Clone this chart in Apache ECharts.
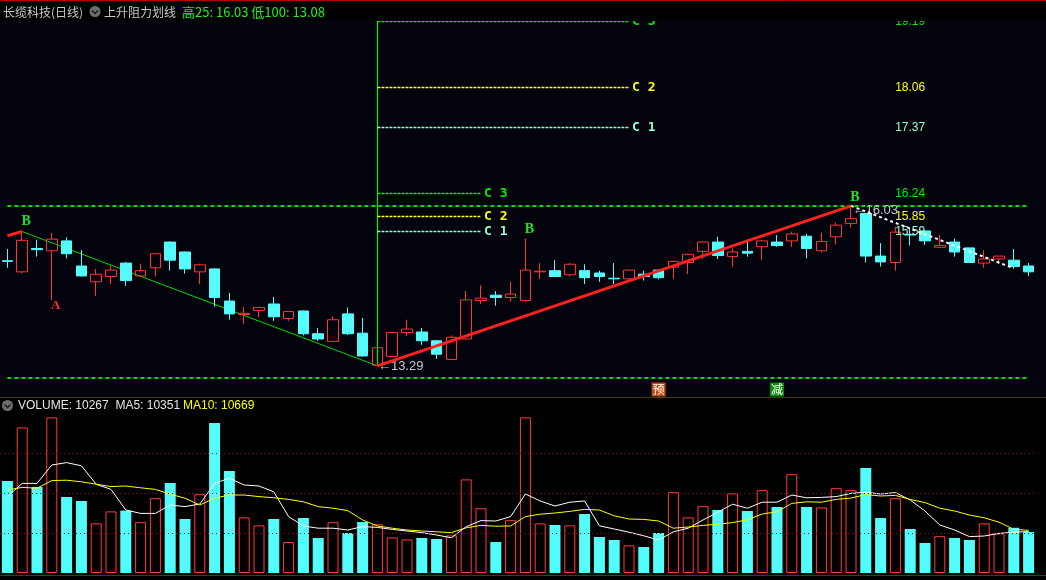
<!DOCTYPE html>
<html><head><meta charset="utf-8">
<script src="https://cdn.jsdelivr.net/npm/echarts@6/dist/echarts.min.js"></script>
<style>html,body{margin:0;padding:0;background:#000;}#c{width:1046px;height:580px;}</style>
</head><body><div id="c"></div>
<script>
// ---------- data ----------
const categories = Array.from({length: 70}, (_, i) => 'D' + (i + 1));
const open = [15.09,14.90,15.30,15.26,15.43,15.00,14.73,14.82,15.05,14.83,
  14.97,15.41,15.24,14.90,14.95,14.40,14.17,14.24,14.35,14.10,
  14.23,13.84,13.71,14.18,13.85,13.30,13.45,13.86,13.87,13.72,
  13.40,13.75,14.41,14.50,14.46,14.41,14.90,14.92,14.85,14.92,
  14.88,14.79,14.78,14.86,14.93,14.98,15.06,15.25,15.41,15.16,
  15.25,15.33,15.41,15.43,15.51,15.26,15.50,15.73,15.90,15.17,
  15.06,15.54,15.60,15.32,15.41,15.31,15.05,15.12,15.10,15.00];
const close = [15.08,15.44,15.28,15.46,15.21,14.83,14.86,14.93,14.75,14.92,
  15.21,15.10,14.95,15.02,14.46,14.18,14.19,14.29,14.13,14.22,
  13.84,13.75,14.08,13.84,13.46,13.60,13.86,13.92,13.72,13.49,
  13.78,14.42,14.45,14.46,14.52,14.93,14.91,14.82,15.03,14.80,
  14.82,14.78,14.93,14.82,14.80,15.08,15.20,15.41,15.18,15.24,
  15.22,15.43,15.35,15.55,15.30,15.42,15.70,15.81,15.17,15.07,
  15.58,15.53,15.43,15.35,15.24,15.06,15.12,15.17,14.99,14.90];
const low = [14.97,14.88,15.16,14.42,15.13,14.82,14.49,14.69,14.66,14.82,
  14.82,14.92,14.87,14.69,14.30,14.08,14.01,14.12,14.06,14.06,
  13.81,13.72,13.70,13.82,13.45,13.29,13.44,13.80,13.65,13.41,
  13.39,13.74,14.35,14.32,14.39,14.39,14.78,14.81,14.82,14.69,
  14.73,14.69,14.73,14.75,14.77,14.78,14.86,15.12,15.12,14.99,
  15.16,15.10,15.33,15.33,15.13,15.23,15.37,15.66,15.06,14.99,
  14.92,15.35,15.36,15.32,15.16,15.05,14.97,15.03,14.96,14.83];
const high = [15.29,15.59,15.45,15.57,15.49,15.27,14.95,15.01,15.07,15.04,
  15.22,15.42,15.25,15.04,14.96,14.54,14.30,14.30,14.47,14.23,
  14.24,13.94,14.14,14.29,14.11,13.60,13.87,14.08,13.94,13.73,
  13.81,14.57,14.67,14.57,14.73,15.47,15.05,15.10,15.05,15.03,
  14.92,15.05,14.94,14.92,14.94,15.09,15.21,15.42,15.50,15.30,
  15.41,15.44,15.53,15.59,15.55,15.57,15.74,16.03,15.90,15.39,
  15.67,15.65,15.60,15.53,15.47,15.31,15.27,15.17,15.29,15.05];
const volume = [23000,36400,21500,38900,19000,18000,12400,15400,15600,12700,
  18700,22500,13500,19700,37500,25500,13900,11900,13500,7750,
  13750,8750,12700,10000,12750,12200,8900,8400,8750,8500,
  9400,23400,16200,7750,13200,38900,12400,12000,11900,14750,
  9000,8250,6900,6500,10000,20200,13900,16700,15750,19900,
  15500,20700,16500,24700,16500,16400,21200,20700,26250,13750,
  18700,11000,7500,9200,8750,8250,12400,9900,11300,10267];
const ma5 = [19100,22400,22400,27000,27600,26800,22200,20900,15750,14900,
  14900,17000,16600,17250,22400,23700,22000,21750,20300,14100,
  11750,11200,11200,10750,11600,11400,10900,10500,10100,9500,
  8800,11600,13100,13000,14100,19750,18000,16750,17700,18000,
  11800,11000,10200,9300,8250,10300,11200,13250,15200,17200,
  16200,17700,17700,19500,18800,18900,19100,19900,20200,19750,
  20100,18250,15500,12000,10750,9100,9250,9900,10200,10351];
const ma10 = [20750,21400,21200,23100,23200,22800,22200,21600,21750,21300,
  20900,19700,18700,17000,18700,19500,19500,19100,18800,18400,
  17800,16600,16200,15600,13250,11750,11200,10750,10500,10300,
  10100,11300,11900,11700,11750,14100,14700,15000,15400,15900,
  15750,14300,13500,13400,13000,11200,11500,11900,12200,12600,
  13300,14750,15300,17400,17800,17700,18400,18750,19600,19250,
  19400,18400,17600,16200,15500,14500,13800,12700,10900,10669];
// resistance levels (above the low pivot) and their labels
const upperLevels = [19.19, 18.06, 17.37];
const lowerLevels = [16.24, 15.85, 15.59];
const levelLabels = ['C 3', 'C 2', 'C 1'];
// pivots: [category index, price]
const prevUpStart = [0, 15.52];
const pivotB1 = [1, 15.59];
const pivotA = [3, 14.42];
const pivotLow = [25, 13.29];
const pivotB2 = [35, 15.47];
const pivotHigh = [57, 16.03];
const fallEnd = [68, 14.96];
const hi100 = 16.03, lo100 = 13.08;
const markYu = 44, markJian = 52;
const volGrid = [10000, 20000, 30000];
const header = {name: '长缆科技(日线)', indicator: '上升阻力划线', extra: '高25: 16.03 低100: 13.08'};

// ---------- chart ----------
const chart = echarts.init(document.getElementById('c'));
const cat = categories;
const UP = '#ff3434', DN = '#54fcfc';
const isUp = i => close[i] >= open[i];
const kData = open.map((o, i) => [o, close[i], low[i], high[i]]);
const volData = volume.map((v, i) => ({
  value: v,
  itemStyle: isUp(i) ? {color: 'rgba(0,0,0,0)', borderColor: '#ff3c3c', borderWidth: 1}
                     : {color: DN, borderWidth: 0}
}));
const NUMFONT = '"Liberation Sans", Arial, sans-serif';
const levelColors = ['#00f000', '#ffff00', '#90ffd0'];
const LOW_END = 32, UP_END = 42, LABEL_IDX = 61;
const Y_TOP = 19.21;

const markLines = [];
[hi100, lo100].forEach(v => markLines.push([
  {coord: [cat[0], v], lineStyle: {color: '#00e000', type: [4, 3], width: 2}, label: {show: false}},
  {coord: [cat[69], v]}]));
markLines.push([
  {coord: [cat[pivotLow[0]], pivotLow[1]], lineStyle: {color: '#00f000', type: 'solid', width: 1.2}, label: {show: false}},
  {coord: [cat[pivotLow[0]], Y_TOP]}]);
function lvl(v, k, endIdx) {
  return [
    {coord: [cat[pivotLow[0]], v], lineStyle: {color: levelColors[k], type: [3, 1], width: 1.3, opacity: 1},
     label: {show: true, position: 'end', distance: 3, formatter: levelLabels[k], color: levelColors[k],
             fontSize: 13, fontWeight: 'bold', fontFamily: '"DejaVu Sans Mono", monospace'}},
    {coord: [cat[endIdx], v]}];
}
upperLevels.forEach((v, k) => markLines.push(lvl(v, k, UP_END)));
lowerLevels.forEach((v, k) => markLines.push(lvl(v, k, LOW_END)));

const mp = (coord, text, color, opts) => ({
  coord: coord, symbol: 'circle', symbolSize: 1, itemStyle: {color: 'rgba(0,0,0,0)'},
  label: Object.assign({show: true, formatter: text, color: color, position: 'inside',
    fontSize: 12, fontFamily: NUMFONT}, opts || {})
});
const markPoints = [];
upperLevels.concat(lowerLevels).forEach((v, j) => markPoints.push(
  mp([cat[LABEL_IDX], v], v.toFixed(2), levelColors[j % 3])));
const bFont = {fontSize: 14, fontWeight: 'bold', fontFamily: '"Liberation Serif", serif'};
markPoints.push(mp([cat[pivotB1[0]], pivotB1[1]], 'B', '#20e020', Object.assign({offset: [4, -10]}, bFont)));
markPoints.push(mp([cat[pivotB2[0]], pivotB2[1]], 'B', '#20e020', Object.assign({offset: [4, -9]}, bFont)));
markPoints.push(mp([cat[pivotHigh[0]], pivotHigh[1]], 'B', '#20e020', Object.assign({offset: [4, -8]}, bFont)));
markPoints.push(mp([cat[pivotA[0]], pivotA[1]], 'A', '#ff3030', Object.assign({}, bFont, {offset: [4, 6], fontSize: 13})));
markPoints.push(mp([cat[pivotLow[0]], pivotLow[1]], '←13.29', '#c8c8c8', {position: 'right', distance: 0, offset: [0, 1], fontSize: 13}));
markPoints.push(mp([cat[pivotHigh[0]], pivotHigh[1]], '←16.03', '#c8c8c8', {position: 'right', distance: 0, offset: [1, 5], fontSize: 13}));
markPoints.push({coord: [cat[markYu], 12.885], symbol: 'rect', symbolSize: [14, 14], itemStyle: {color: '#c44c14'},
  label: {show: true, formatter: '预', color: '#fff', fontSize: 12, position: 'inside', fontFamily: '"Noto Sans CJK SC"'}});
markPoints.push({coord: [cat[markJian], 12.885], symbol: 'rect', symbolSize: [14, 14], itemStyle: {color: '#0a8a0a'},
  label: {show: true, formatter: '减', color: '#fff', fontSize: 12, position: 'inside', fontFamily: '"Noto Sans CJK SC"'}});

const seg = (a, b) => [[cat[a[0]], a[1]], [cat[b[0]], b[1]]];
const lineSeries = (data, color, width, type, z) => ({
  type: 'line', xAxisIndex: 0, yAxisIndex: 0, data: data, symbol: 'none', silent: true, z: z || 3,
  lineStyle: {color: color, width: width, type: type || 'solid'}, animation: false
});

const option = {
  backgroundColor: '#000',
  animation: false,
  grid: [
    {left: 0, right: 10, top: 20, height: 376},
    {left: 0, right: 10, top: 398, height: 175}
  ],
  xAxis: [
    {type: 'category', data: cat, gridIndex: 0, show: false, boundaryGap: true},
    {type: 'category', data: cat, gridIndex: 1, show: false, boundaryGap: true}
  ],
  yAxis: [
    {type: 'value', gridIndex: 0, min: 12.774, max: 19.212, show: false, splitLine: {show: false}},
    {type: 'value', gridIndex: 1, min: 0, max: 43750, show: false, splitLine: {show: false}}
  ],
  graphic: {elements: [
    {type: 'rect', shape: {x: 0, y: 21, width: 1046, height: 375}, style: {fill: '#03030d'}, z: -10},
    {type: 'rect', shape: {x: 0, y: 0, width: 1046, height: 21}, style: {fill: '#000'}, z: 100},
    {type: 'line', shape: {x1: 0, y1: 0.5, x2: 1046, y2: 0.5}, style: {stroke: '#b00000', lineWidth: 1}, z: 101},
    {type: 'line', shape: {x1: 0, y1: 397.5, x2: 1046, y2: 397.5}, style: {stroke: '#b00000', lineWidth: 1}, z: 101},
    {type: 'line', shape: {x1: 0, y1: 575.5, x2: 1046, y2: 575.5}, style: {stroke: '#b00000', lineWidth: 1}, z: 101},
    {type: 'text', x: 3, y: 12, z: 102, style: {text: header.name, fill: '#c8c8c8', font: '12px "Noto Sans CJK SC", sans-serif', verticalAlign: 'middle'}},
    {type: 'circle', shape: {cx: 95, cy: 11.5, r: 5.5}, style: {fill: '#6e6e6e'}, z: 102},
    {type: 'polyline', shape: {points: [[92, 10.5], [95, 13.5], [98, 10.5]]}, style: {stroke: '#1e1e1e', lineWidth: 1.5, fill: null}, z: 103},
    {type: 'text', x: 104, y: 12, z: 102, style: {text: header.indicator, fill: '#c8c8c8', font: '12px "Noto Sans CJK SC", sans-serif', verticalAlign: 'middle'}},
    {type: 'text', x: 182, y: 12, z: 102, style: {text: header.extra, fill: '#20f020', font: '13px "Noto Sans CJK SC", sans-serif', verticalAlign: 'middle'}},
    {type: 'circle', shape: {cx: 7.5, cy: 405.5, r: 5.5}, style: {fill: '#6e6e6e'}, z: 102},
    {type: 'polyline', shape: {points: [[4.5, 404.5], [7.5, 407.5], [10.5, 404.5]]}, style: {stroke: '#1e1e1e', lineWidth: 1.5, fill: null}, z: 103},
    {type: 'text', x: 18, y: 406, z: 102, style: {text: 'VOLUME: ' + volume[69] + '  MA5: ' + ma5[69], fill: '#e6e6e6', font: '12px ' + NUMFONT, verticalAlign: 'middle'}},
    {type: 'text', x: 183, y: 406, z: 102, style: {text: 'MA10: ' + ma10[69], fill: '#ffff00', font: '12px ' + NUMFONT, verticalAlign: 'middle'}}
  ]},
  series: [
    {
      type: 'candlestick', xAxisIndex: 0, yAxisIndex: 0, data: kData, barWidth: 11, silent: true, z: 4,
      itemStyle: {color: 'rgba(0,0,0,0)', color0: DN, borderColor: UP, borderColor0: DN, borderWidth: 1},
      markLine: {symbol: ['none', 'none'], silent: true, animation: false, data: markLines, z: 2},
      markPoint: {silent: true, animation: false, data: markPoints}
    },
    lineSeries(seg(pivotB1, pivotLow), '#00d800', 1, 'solid', 3),
    lineSeries(seg(prevUpStart, pivotB1), '#ff2020', 3, 'solid', 5),
    lineSeries(seg(pivotLow, pivotHigh), '#ff2020', 3, 'solid', 5),
    lineSeries(seg(pivotHigh, fallEnd), '#ffffff', 2, [3, 3], 5),
    {
      type: 'bar', xAxisIndex: 1, yAxisIndex: 1, data: volData, barWidth: 11, silent: true,
      markLine: {symbol: ['none', 'none'], silent: true, animation: false, label: {show: false},
        lineStyle: {color: '#a00000', type: [1, 3], width: 1},
        data: volGrid.map(v => ({yAxis: v}))}
    },
    {type: 'line', xAxisIndex: 1, yAxisIndex: 1, data: ma5, symbol: 'none', silent: true,
      lineStyle: {color: '#ffffff', width: 1}},
    {type: 'line', xAxisIndex: 1, yAxisIndex: 1, data: ma10, symbol: 'none', silent: true,
      lineStyle: {color: '#ffff00', width: 1}}
  ]
};
chart.setOption(option);
</script>
</body></html>
